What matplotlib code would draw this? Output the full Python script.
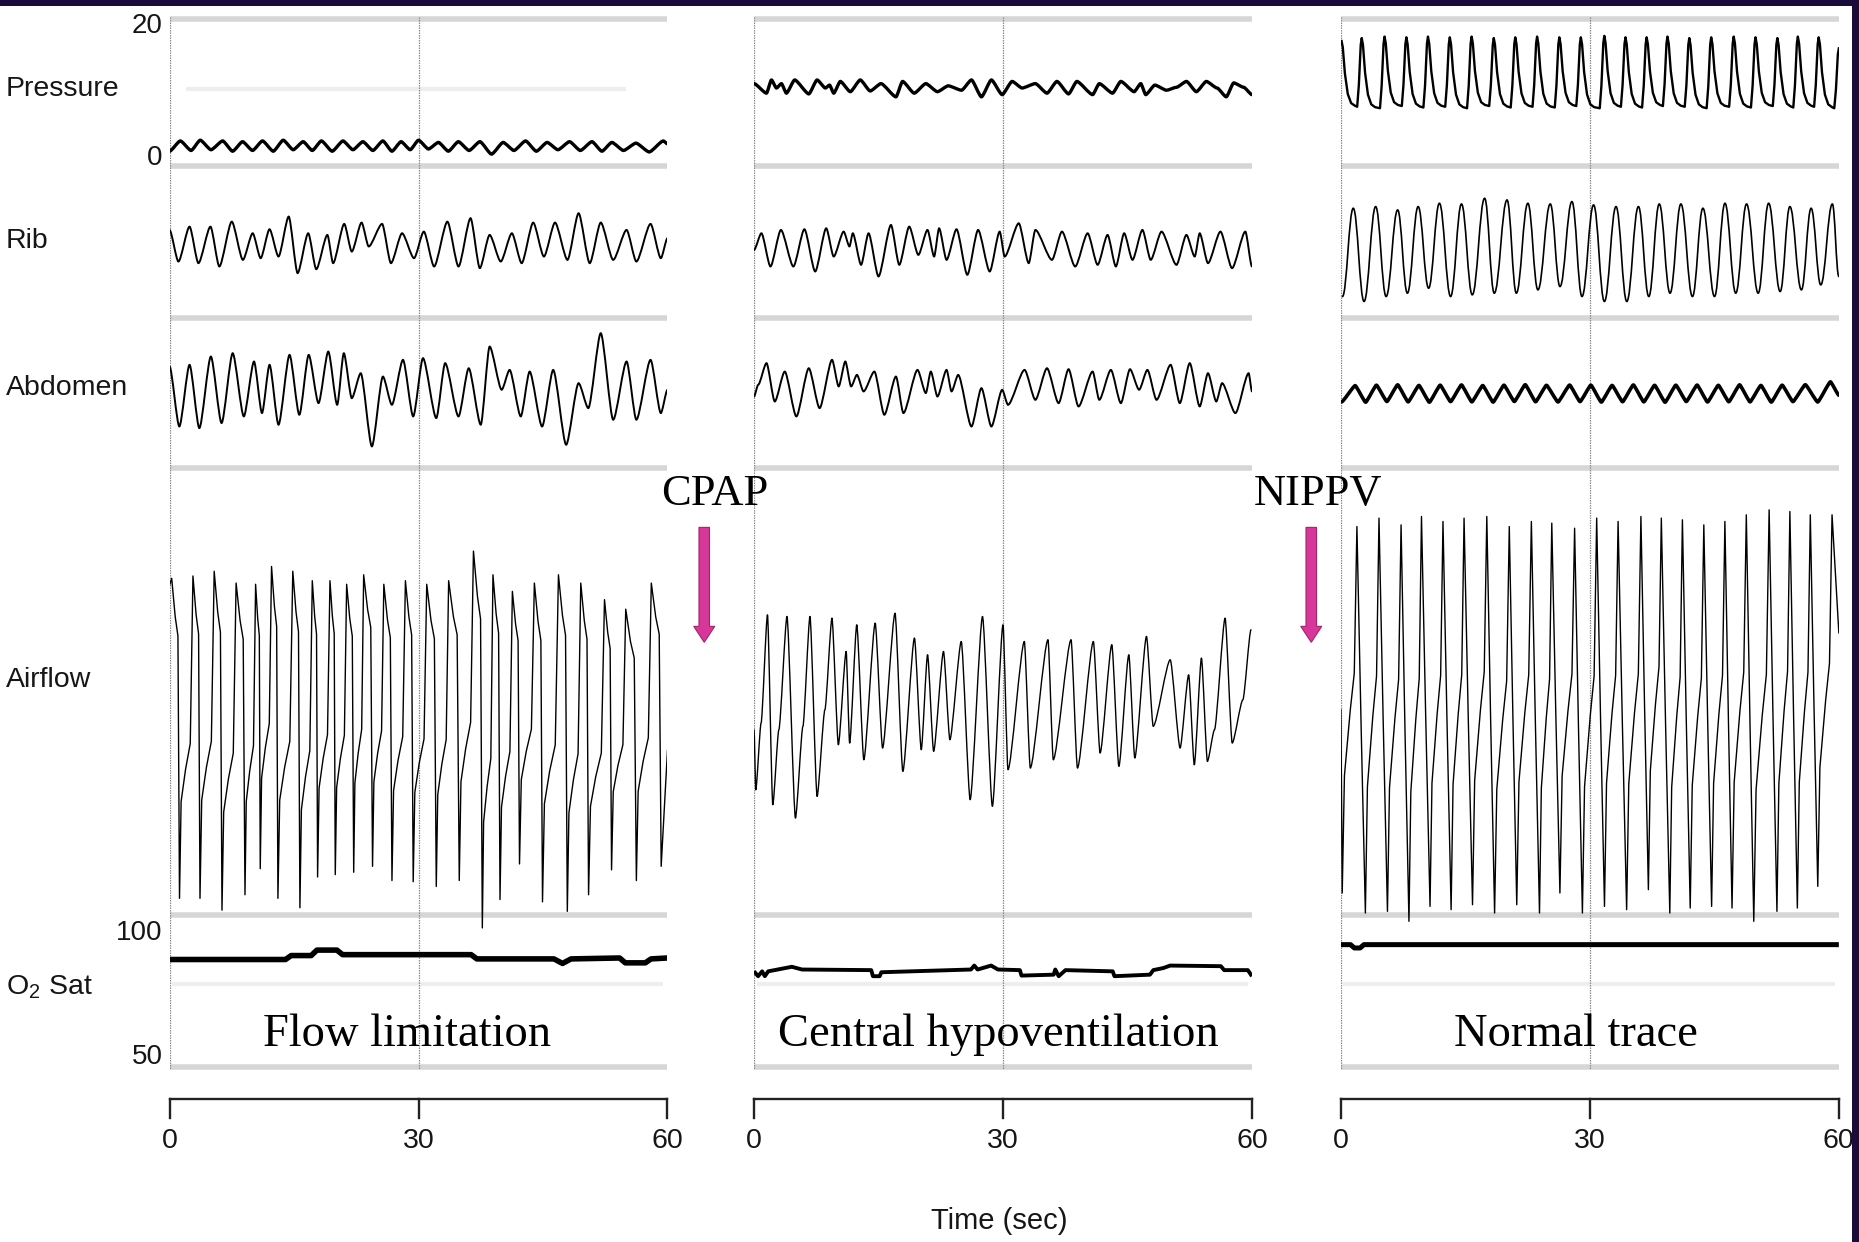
import numpy as np
import matplotlib
matplotlib.use("Agg")
import matplotlib.pyplot as plt
from matplotlib.path import Path
from matplotlib.patches import PathPatch, FancyArrow, Rectangle

# ------------------------------------------------------------------ data
# time in seconds (0-60 per panel); rib/abdomen/airflow in arbitrary deflection units
# pressure in cmH2O, O2 saturation in %

channel_labels = ["Pressure", "Rib", "Abdomen", "Airflow", "O$_\\mathregular{2}$ Sat"]
panel_titles = ["Flow limitation", "Central hypoventilation", "Normal trace"]
interventions = ["CPAP", "NIPPV"]
time_ticks = [0, 30, 60]
pressure_ticks = ["20", "0"]
sat_ticks = ["100", "50"]
time_label = "Time (sec)"

# ---- Panel 1 : flow limitation
p1_press_t = [0, 1.3, 2.6, 3.7, 5.0, 6.4, 7.6, 8.8, 10.0, 11.2, 12.5, 13.7, 14.9, 16.1, 17.2, 18.3, 19.6,
              20.9, 22.1, 23.3, 24.5, 25.7, 26.8, 27.9, 29.0, 30.0, 31.2, 32.4, 33.6, 34.8, 36.1, 37.4,
              38.8, 40.2, 41.5, 42.9, 44.2, 45.5, 46.8, 48.2, 49.5, 50.9, 52.1, 53.3, 54.7, 56.2, 57.8,
              59.5, 60]
p1_press_v = [2.0, 3.4, 2.1, 3.5, 2.2, 3.4, 2.0, 3.3, 2.1, 3.4, 2.0, 3.5, 2.2, 3.3, 2.1, 3.4, 2.0,
              3.4, 2.2, 3.3, 2.1, 3.4, 2.0, 3.3, 2.2, 3.5, 2.3, 3.2, 2.0, 3.3, 2.1, 3.3,
              1.6, 3.2, 2.1, 3.4, 2.0, 3.2, 2.2, 3.3, 2.1, 3.3, 2.0, 3.2, 2.1, 3.1, 1.9,
              3.4, 3.0]

p1_rib_t = [0, 1.07, 2.41, 3.48, 4.93, 6.0, 7.5, 8.84, 10.02, 10.98, 12.05, 13.13, 14.36, 15.43, 16.71,
            17.68, 19.02, 19.71, 21.05, 21.96, 23.14, 24.0, 25.61, 26.68, 28.02, 29.46, 30.64, 31.88,
            33.48, 34.82, 36.27, 37.39, 38.57, 39.91, 41.25, 42.43, 43.82, 45.11, 46.45, 47.95, 49.29,
            50.63, 51.96, 53.46, 55.07, 56.25, 57.96, 59.2, 60]
p1_rib_v = [13.0, -13.7, 15.8, -15.1, 15.8, -17.9, 20.0, -12.3, 10.2, -10.9, 13.6, -9.5, 24.3, -23.5, 10.2,
            -20.2, 8.8, -15.1, 18.1, -5.3, 19.2, -1.0, 18.1, -15.1, 10.2, -10.9, 11.6, -17.9,
            20.0, -17.9, 22.9, -19.3, 8.8, -13.7, 10.2, -15.1, 19.2, -9.5, 19.2, -12.3, 27.1,
            -15.1, 19.2, -12.3, 13.0, -13.7, 18.1, -10.9, 6.0]

p1_abd_t = [0, 1.18, 2.41, 3.59, 4.98, 6.27, 7.61, 8.95, 10.18, 11.14, 12.05, 13.13, 14.46, 15.64, 16.77,
            17.95, 19.13, 20.2, 21.0, 21.96, 23.04, 24.38, 25.71, 26.79, 28.13, 29.36, 30.54, 32.14,
            33.21, 34.82, 36.05, 37.5, 38.57, 40.02, 40.98, 42.32, 43.39, 44.89, 46.23, 47.79, 49.29,
            50.46, 51.96, 53.46, 55.07, 56.25, 57.96, 59.2, 60]
p1_abd_v = [20.8, -29.9, 22.2, -31.3, 29.2, -27.0, 32.0, -21.4, 25.0, -18.6, 22.2, -28.4, 30.6, -20.0, 30.6,
            -10.2, 33.4, -11.6, 32.0, -6.0, 15.1, -46.7, 12.3, -11.6, 26.4, -21.4, 27.8, -22.8,
            23.6, -21.4, 19.3, -28.4, 37.6, 1.1, 17.9, -21.4, 16.5, -29.9, 17.9, -45.3, 6.7,
            -14.4, 48.9, -24.2, 25.0, -24.2, 26.4, -18.6, 1.1]

p1_air_peak_t = [0.26, 2.82, 5.38, 8.02, 10.37, 12.29, 14.85, 17.2, 19.33, 21.34, 23.39, 25.82,
                 28.42, 30.99, 33.63, 36.62, 38.97, 41.31, 43.96, 46.86, 49.55, 52.41, 54.97, 58.05]
p1_air_peak_v = [132, 134, 138, 128, 127, 142, 138, 130, 130, 127, 135, 127,
                 130, 127, 130, 155, 135, 121, 128, 135, 128, 114, 106, 128]
p1_air_trough_t = [1.2, 3.67, 6.32, 9.09, 10.93, 13.06, 15.71, 17.84, 19.97, 22.19, 24.46, 26.8,
                   29.36, 32.14, 34.91, 37.69, 39.82, 42.17, 44.94, 47.93, 50.49, 53.26, 56.25, 59.24]
p1_air_trough_v = [-138, -138, -148, -135, -113, -138, -146, -120, -118, -116, -111, -123,
                   -124, -128, -123, -163, -139, -109, -141, -149, -135, -114, -123, -111]
p1_air_start = 126
p1_air_end = -13

p1_sat_t = [0, 13.97, 14.66, 17.07, 17.76, 20.17, 20.85, 36.34, 37.03, 46.32, 47.35, 48.38,
            54.23, 54.92, 57.33, 58.02, 60]
p1_sat_v = [85.3, 85.3, 86.6, 86.6, 88.4, 88.4, 86.9, 86.9, 85.5, 85.5, 84.0, 85.5,
            85.8, 84.2, 84.2, 85.5, 85.8]

# ---- Panel 2 : central hypoventilation (CPAP)
p2_press_t = [0, 1.5, 2.1, 2.7, 3.3, 3.9, 4.9, 6.6, 7.6, 8.6, 9.1, 9.6, 10.4, 11.6, 12.8, 14.0, 15.3,
              17.1, 17.9, 19.3, 20.7, 22.1, 23.4, 25.0, 26.2, 27.4, 28.6, 29.9, 31.1, 32.3, 33.9, 35.3,
              36.5, 37.9, 38.9, 40.8, 41.6, 43.2, 44.2, 45.8, 46.6, 47.2, 48.3, 49.7, 50.9, 52.1, 53.3,
              54.5, 55.8, 56.9, 57.8, 59.0, 60.0]
p2_press_v = [11.2, 9.9, 11.7, 10.6, 11.2, 9.9, 11.7, 9.8, 11.7, 10.6, 11.0, 9.9, 11.5, 10.1, 11.7, 10.2, 11.2,
              9.4, 11.5, 9.9, 11.2, 10.1, 10.9, 10.3, 11.7, 9.4, 11.7, 9.7, 11.5, 10.6, 11.2, 9.9,
              11.5, 9.8, 11.5, 9.7, 11.2, 9.9, 11.5, 10.1, 11.2, 9.7, 11.0, 10.3, 10.7, 11.5, 10.1,
              11.5, 10.6, 9.4, 11.3, 10.7, 9.7]

p2_rib_t = [0, 0.89, 1.98, 3.24, 4.74, 6.07, 7.37, 8.7, 9.6, 10.8, 11.5, 11.9, 12.9, 13.8, 15.0, 16.5,
            17.5, 18.7, 19.8, 20.9, 21.7, 22.3, 23.2, 24.4, 25.7, 27.0, 28.4, 29.6, 30.2, 31.9, 33.1,
            33.9, 35.9, 37.1, 38.7, 40.2, 41.4, 42.6, 43.6, 44.6, 45.6, 46.8, 47.8, 49.1, 50.9, 52.1,
            53.1, 53.7, 54.7, 56.2, 57.6, 59.2, 60.0]
p2_rib_v = [-1.9, 12.2, -15.9, 15.0, -15.9, 15.6, -20.1, 16.4, -7.5, 13.6, 1.0, 12.2, -14.5, 12.2, -24.3, 19.2,
            -14.5, 17.8, -6.1, 15.0, -7.5, 16.4, -10.3, 15.6, -22.9, 15.0, -20.1, 13.6, -7.5, 20.6, -13.1,
            15.0, -10.3, 13.6, -15.9, 12.2, -14.5, 10.8, -15.9, 12.2, -10.3, 15.0, -10.3, 13.6, -14.5, 10.8,
            -7.5, 12.2, -13.1, 13.6, -17.3, 13.6, -15.9]

p2_abd_t = [0, 0.5, 1.5, 2.5, 3.7, 5.1, 6.6, 7.9, 9.4, 10.2, 11.0, 11.7, 12.4, 13.2, 14.5, 15.7, 17.1,
            18.0, 19.7, 20.7, 21.3, 22.1, 23.2, 23.8, 24.6, 26.2, 27.4, 28.6, 29.9, 30.6, 32.6, 33.9,
            35.3, 36.7, 37.9, 39.1, 40.8, 41.6, 43.0, 44.2, 45.3, 46.4, 47.4, 48.5, 50.2, 51.3, 52.5,
            53.7, 54.7, 55.7, 56.4, 58.0, 59.6, 60.0]
p2_abd_v = [-5.6, 4.3, 22.6, -9.8, 15.5, -22.4, 18.3, -15.4, 25.4, 2.9, 24.0, 2.9, 12.7, -1.3, 15.5, -21.0, 11.3,
            -19.6, 16.9, -2.7, 15.5, -5.6, 16.9, -1.3, 12.7, -30.9, 1.5, -30.9, 0.1, -12.6, 16.9, -8.4,
            18.3, -11.2, 17.5, -14.0, 15.5, -8.4, 16.9, -11.2, 17.5, 0.1, 16.9, -8.4, 21.2, -11.2, 22.6,
            -14.0, 14.1, -9.8, 5.7, -19.6, 14.1, -1.3]

p2_air_t = [0, 0.21, 0.85, 1.62, 2.26, 2.99, 3.97, 4.99, 5.89, 6.74, 7.6, 8.54, 9.39, 10.16, 11.1,
            11.52, 12.38, 13.23, 14.6, 15.49, 16.99, 17.93, 19.33, 20.15, 20.91, 21.64, 22.83, 23.6,
            24.97, 26.04, 27.53, 28.72, 30.0, 30.6, 32.57, 33.29, 35.42, 36.06, 38.2, 38.97, 40.89,
            41.7, 43.11, 43.96, 45.16, 45.88, 47.29, 48.1, 50.15, 51.34, 52.37, 53.05, 53.91, 54.63,
            55.48, 56.76, 57.62, 58.9, 59.88]
p2_air_v = [4.2, -46.4, 9.9, 101.2, -59.0, 4.2, 99.8, -70.3, 7.1, 99.8, -52.0, 21.1, 98.4, -8.4, 70.3,
            -7.0, 92.8, -21.1, 94.2, -11.2, 102.6, -30.9, 81.6, -12.6, 67.5, -14.0, 70.3, -4.2,
            78.7, -54.8, 99.8, -60.4, 92.8, -29.5, 78.7, -28.1, 80.2, -21.1, 80.2, -28.1, 78.7,
            -15.4, 76.0, -26.7, 67.5, -19.6, 83.0, 7.1, 63.3, -11.2, 50.6, -25.3, 64.7, -22.5,
            4.2, 98.4, -7.0, 29.5, 88.6]

p2_sat_t = [0, 0.49, 0.98, 1.3, 1.71, 4.56, 5.78, 14.12, 14.33, 15.14, 15.34, 26.13, 26.54, 26.94,
            28.57, 29.39, 32.03, 32.23, 36.1, 36.3, 36.71, 37.53, 43.22, 43.43, 47.7, 48.11, 49.33,
            50.14, 56.25, 56.65, 59.5, 60]
p2_sat_v = [81.4, 79.8, 81.4, 79.8, 81.4, 82.9, 82.0, 81.8, 79.8, 79.8, 81.1, 82.0, 83.3, 82.0,
            83.3, 82.0, 81.8, 80.0, 80.3, 82.0, 79.8, 81.8, 81.4, 79.8, 80.3, 81.8, 82.5,
            83.3, 83.1, 81.8, 81.8, 79.8]

# ---- Panel 3 : normal trace (NIPPV)
p3_press_peak_t = [0.08, 2.51, 5.26, 7.89, 10.49, 13.12, 15.75, 18.42, 21.01, 23.64, 26.32, 28.91,
                   31.74, 34.29, 36.84, 39.35, 41.98, 44.62, 47.33, 49.96, 52.59, 55.06, 57.57, 60.0]
p3_press_peak_v = [17.0, 17.4, 17.6, 17.5, 17.6, 17.5, 17.6, 17.4, 17.5, 17.6, 17.5, 17.5,
                   17.7, 17.5, 17.5, 17.6, 17.4, 17.5, 17.6, 17.5, 17.4, 17.6, 17.5, 16.0]
p3_press_trough_v = [8.2, 8.0, 8.3, 8.1, 8.2, 8.0, 8.3, 8.1, 8.2, 8.1, 8.3, 8.0,
                     8.2, 8.1, 8.3, 8.2, 8.0, 8.2, 8.1, 8.3, 8.1, 8.2, 8.0]

p3_rib_t = [0.19, 1.49, 2.79, 4.19, 5.45, 6.84, 8.01, 9.31, 10.57, 11.87, 13.22, 14.53, 15.83, 17.32,
            18.48, 20.02, 21.14, 22.53, 23.74, 25.23, 26.4, 27.84, 29.05, 30.45, 31.75, 33.15, 34.45,
            35.85, 37.1, 38.36, 39.66, 40.97, 42.36, 43.62, 45.02, 46.28, 47.58, 48.88, 50.28, 51.54,
            52.93, 54.1, 55.49, 56.66, 57.82, 59.22, 60.0]
p3_rib_v = [-38.2, 36.3, -42.4, 37.7, -38.2, 34.9, -35.4, 37.7, -31.2, 40.5, -38.2, 39.9, -36.8, 44.7,
            -35.4, 43.3, -35.4, 40.5, -32.6, 39.9, -29.8, 41.9, -38.2, 39.1, -42.4, 37.7, -42.4,
            37.7, -38.2, 39.9, -35.4, 39.9, -38.2, 36.3, -38.2, 40.5, -35.4, 39.9, -35.4, 40.5,
            -34.0, 37.7, -32.6, 36.3, -28.4, 39.9, -21.3]

p3_abd_t = [0.09, 1.72, 2.98, 4.28, 5.54, 6.84, 8.1, 9.4, 10.66, 11.96, 13.22, 14.53, 15.78, 17.09,
            18.34, 19.65, 20.9, 22.21, 23.46, 24.77, 26.16, 27.56, 28.82, 30.12, 31.38, 32.68, 33.94,
            35.24, 36.5, 37.8, 39.06, 40.36, 41.62, 42.92, 44.18, 45.48, 46.74, 48.04, 49.3, 50.61,
            51.86, 53.17, 54.47, 55.96, 57.45, 58.99, 60.0]
p3_abd_v = [-7.1, 6.6, -7.4, 7.0, -6.8, 7.3, -7.1, 6.8, -7.4, 7.0, -6.9, 7.2, -7.1, 6.7, -7.3, 7.0,
            -6.8, 7.4, -7.0, 6.9, -7.2, 7.1, -6.9, 7.0, -7.3, 6.8, -7.0, 7.2, -7.1, 6.9, -7.4, 7.0,
            -6.8, 7.1, -7.2, 6.9, -7.0, 7.3, -7.1, 6.8, -7.3, 7.0, -6.9, 7.4, -7.2, 9.8, -1.5]

p3_air_trough_t = [0.16, 2.95, 5.61, 8.2, 10.74, 13.28, 15.86, 18.52, 21.19, 23.93, 26.39, 29.1,
                   31.76, 34.43, 37.05, 39.63, 42.09, 44.67, 47.13, 49.75, 52.54, 55.0, 57.46]
p3_air_trough_v = [-133.5, -150.4, -149.0, -157.4, -144.8, -147.6, -143.4, -150.4, -143.4, -150.4,
                   -133.5, -150.4, -144.8, -147.6, -130.7, -150.4, -146.2, -144.8, -146.2, -157.4,
                   -149.0, -146.2, -127.9]
p3_air_peak_t = [1.93, 4.59, 7.25, 9.71, 12.3, 14.84, 17.58, 20.29, 22.95, 25.41, 28.16, 30.82,
                 33.4, 36.15, 38.61, 41.15, 43.73, 46.27, 48.85, 51.6, 54.1, 56.56, 59.18]
p3_air_peak_v = [175.7, 182.8, 177.1, 184.2, 180.0, 182.8, 184.2, 175.7, 180.0, 178.6, 174.3, 182.8,
                 180.0, 184.2, 182.8, 181.4, 177.1, 180.0, 185.6, 189.8, 188.4, 185.6, 185.6]
p3_air_start = 21
p3_air_end = 86

p3_sat_t = [0, 1.16, 1.62, 2.31, 2.78, 59.7, 60]
p3_sat_v = [90.2, 90.2, 89.1, 89.1, 90.2, 90.2, 90.2]

# ------------------------------------------------------------------ layout
W, H = 1859, 1242
DW, DH = 1568, 1048           # layout grid (reference drawing units)
panel_x0 = [143, 636, 1131]
panel_w = 420
band_y = [16, 140, 268, 395, 772, 900]
faint_y = 830
press_zero_y, press_scale = 140, 6.2
sat_top_y, sat_scale = 772, 2.56
rib_base = [207, 209, 212]
abd_base = [330, 329, 332]
air_base = 620
TXT = '#161616'

plt.rcParams['font.family'] = ['Liberation Sans', 'DejaVu Sans']
plt.rcParams['mathtext.fontset'] = 'custom'
plt.rcParams['mathtext.rm'] = 'Liberation Sans'

fig = plt.figure(figsize=(W / 100, H / 100), dpi=100)
fig.patch.set_facecolor('white')


def fx(x):
    return x / DW


def fy(y):
    return 1 - y / DH


def press_y(p):
    return press_zero_y - press_scale * np.asarray(p, float)


def sat_y(s):
    return sat_top_y + sat_scale * (100 - np.asarray(s, float))


def smooth(ax, t, y, k, lw, color='black'):
    t = list(t)
    y = list(y)
    verts = [(t[0], y[0])]
    codes = [Path.MOVETO]
    for i in range(len(t) - 1):
        d = t[i + 1] - t[i]
        verts += [(t[i] + k * d, y[i]), (t[i + 1] - k * d, y[i + 1]), (t[i + 1], y[i + 1])]
        codes += [Path.CURVE4] * 3
    ax.add_patch(PathPatch(Path(verts, codes), fill=False, edgecolor=color, lw=lw,
                           capstyle='round', joinstyle='round', zorder=3))


def flowlim_airflow(pt, pv, tt, tv, v0, v_end):
    ts, vs = [0.0], [v0]
    for i in range(len(pt)):
        P, T = pv[i], tv[i]
        R = P - T
        d = tt[i] - pt[i]
        ts += [pt[i], pt[i] + 0.45 * d, pt[i] + 0.8 * d, tt[i]]
        vs += [P, P - 0.12 * R, P - 0.18 * R, T]
        if i + 1 < len(pt):
            Pn = pv[i + 1]
            u = pt[i + 1] - tt[i]
            Rn = Pn - T
            ts += [tt[i] + 0.12 * u, tt[i] + 0.45 * u, tt[i] + 0.8 * u]
            vs += [T + 0.3 * Rn, T + 0.4 * Rn, T + 0.48 * Rn]
    ts.append(60.0)
    vs.append(v_end)
    return np.array(ts), np.array(vs)


def normal_airflow(tt, tv, pt, pv, v0, v_end):
    ts, vs = [0.0], [v0]
    for i in range(len(tt)):
        T = tv[i]
        if i > 0:
            Pp = pv[i - 1]
            d = tt[i] - pt[i - 1]
            ts.append(pt[i - 1] + 0.5 * d)
            vs.append(Pp - 0.52 * (Pp - T))
        ts.append(tt[i])
        vs.append(T)
        P = pv[i]
        u = pt[i] - tt[i]
        R = P - T
        ts += [tt[i] + 0.15 * u, tt[i] + 0.55 * u, tt[i] + 0.82 * u, pt[i]]
        vs += [T + 0.32 * R, T + 0.5 * R, T + 0.6 * R, P]
    ts.append(60.0)
    vs.append(v_end)
    return np.array(ts), np.array(vs)


def ventilated_pressure(pt, pv, tv):
    ts, vs = [], []
    for i in range(len(pt)):
        P, tp = pv[i], pt[i]
        if i > 0:
            T = tv[i - 1]
            R = P - T
            ts += [tp - 0.55, tp - 0.35, tp - 0.12]
            vs += [T - 0.15, T + 0.3 * R, P - 0.1 * R]
        ts.append(tp)
        vs.append(P)
        if i < len(tv):
            T = tv[i]
            R = P - T
            ts += [tp + 0.15, tp + 0.4, tp + 0.75, tp + 1.15, tp + 1.6]
            vs += [P - 0.1 * R, P - 0.5 * R, P - 0.82 * R, T + 0.04 * R, T]
    return np.array(ts), np.array(vs)


axes = []
for x0 in panel_x0:
    ax = fig.add_axes([fx(x0), 0, panel_w / DW, 1])
    ax.set_xlim(0, 60)
    ax.set_ylim(DH, 0)
    ax.axis('off')
    axes.append(ax)
    # grid bands
    for yb in band_y:
        ax.plot([0, 60], [yb, yb], color='#d6d6d6', lw=4.0, solid_capstyle='butt', zorder=1)
    ax.plot([0.3, 59.5], [faint_y, faint_y], color='#eeeeee', lw=3, solid_capstyle='butt', zorder=1)
    for tv_ in (0, 30):
        ax.plot([tv_, tv_], [14, 902], color='#8c8c8c', lw=0.9, ls=(0, (1.2, 0.8)), zorder=2)
    # time axis bracket
    ax.plot([0, 60], [927, 927], color='#222222', lw=1.7, zorder=3, clip_on=False)
    for tk in time_ticks:
        ax.plot([tk, tk], [927, 943], color='#222222', lw=1.7, zorder=3, clip_on=False)
        ax.text(tk, 963, str(tk), ha='center', va='center', fontsize=20.5, color=TXT)

axes[0].plot([2, 55], [75, 75], color='#eeeeee', lw=3, solid_capstyle='butt', zorder=1)

# ---- panel 1 traces
a = axes[0]
smooth(a, p1_press_t, press_y(p1_press_v), 0.2, 2.4)
smooth(a, p1_rib_t, rib_base[0] - np.array(p1_rib_v), 0.25, 1.4)
smooth(a, p1_abd_t, abd_base[0] - np.array(p1_abd_v), 0.25, 1.4)
t_, v_ = flowlim_airflow(p1_air_peak_t, p1_air_peak_v, p1_air_trough_t, p1_air_trough_v,
                         p1_air_start, p1_air_end)
a.plot(t_, air_base - v_, color='black', lw=1.0, zorder=3)
a.plot(p1_sat_t, sat_y(p1_sat_v), color='black', lw=4.0, solid_capstyle='butt', zorder=3)

# ---- panel 2 traces
a = axes[1]
smooth(a, p2_press_t, press_y(p2_press_v), 0.2, 2.4)
smooth(a, p2_rib_t, rib_base[1] - np.array(p2_rib_v), 0.25, 1.4)
smooth(a, p2_abd_t, abd_base[1] - np.array(p2_abd_v), 0.25, 1.4)
smooth(a, p2_air_t, air_base - np.array(p2_air_v), 0.22, 1.0)
a.plot(p2_sat_t, sat_y(p2_sat_v), color='black', lw=2.8, solid_capstyle='butt', zorder=3)

# ---- panel 3 traces
a = axes[2]
t_, v_ = ventilated_pressure(p3_press_peak_t, p3_press_peak_v, p3_press_trough_v)
a.plot(t_, press_y(v_), color='black', lw=1.7, zorder=3)
smooth(a, p3_rib_t, rib_base[2] - np.array(p3_rib_v), 0.4, 1.2)
smooth(a, p3_abd_t, abd_base[2] - np.array(p3_abd_v), 0.12, 2.6)
t_, v_ = normal_airflow(p3_air_trough_t, p3_air_trough_v, p3_air_peak_t, p3_air_peak_v,
                        p3_air_start, p3_air_end)
a.plot(t_, air_base - v_, color='black', lw=1.0, zorder=3)
a.plot(p3_sat_t, sat_y(p3_sat_v), color='black', lw=3.6, solid_capstyle='butt', zorder=3)

# ---- left labels
label_y = [75, 203, 327, 574, 833]
for lab, yl in zip(channel_labels, label_y):
    fig.text(fx(5), fy(yl), lab, ha='left', va='center', fontsize=20.5, color=TXT)
fig.text(fx(137), fy(22), pressure_ticks[0], ha='right', va='center', fontsize=20, color=TXT)
fig.text(fx(137), fy(133), pressure_ticks[1], ha='right', va='center', fontsize=20, color=TXT)
fig.text(fx(137), fy(787), sat_ticks[0], ha='right', va='center', fontsize=20, color=TXT)
fig.text(fx(137), fy(892), sat_ticks[1], ha='right', va='center', fontsize=20, color=TXT)
fig.text(fx(843), fy(1030), time_label, ha='center', va='center', fontsize=21, color=TXT)

# ---- serif annotations
for title, xc in zip(panel_titles, [343, 842, 1329]):
    fig.text(fx(xc), fy(883), title, ha='center', va='baseline', fontsize=33.5,
             family=['Liberation Serif', 'DejaVu Serif'], color='black')
for lab, xc in zip(interventions, [603, 1112]):
    fig.text(fx(xc), fy(426), lab, ha='center', va='baseline', fontsize=32,
             family=['Liberation Serif', 'DejaVu Serif'], color='black')


def d2in(x, y):
    return x * W / DW / 100, (DH - y) * H / DH / 100


for xc in (594, 1106):
    x_in, y0_in = d2in(xc, 445)
    _, y1_in = d2in(xc, 542)
    arr = FancyArrow(x_in, y0_in, 0, y1_in - y0_in, width=0.105, head_width=0.21, head_length=0.16,
                     length_includes_head=True, transform=fig.dpi_scale_trans,
                     facecolor='#d8379a', edgecolor='#a3226d', lw=0.8)
    fig.add_artist(arr)

# ---- slide frame
fig.add_artist(Rectangle((0, 1 - 6 / H), 1, 6 / H, transform=fig.transFigure,
                         facecolor='#1b0b3a', edgecolor='none'))
fig.add_artist(Rectangle((1 - 7 / W, 0), 7 / W, 1, transform=fig.transFigure,
                         facecolor='#1b0b3a', edgecolor='none'))

fig.savefig('out.png', dpi=100, facecolor='white')
